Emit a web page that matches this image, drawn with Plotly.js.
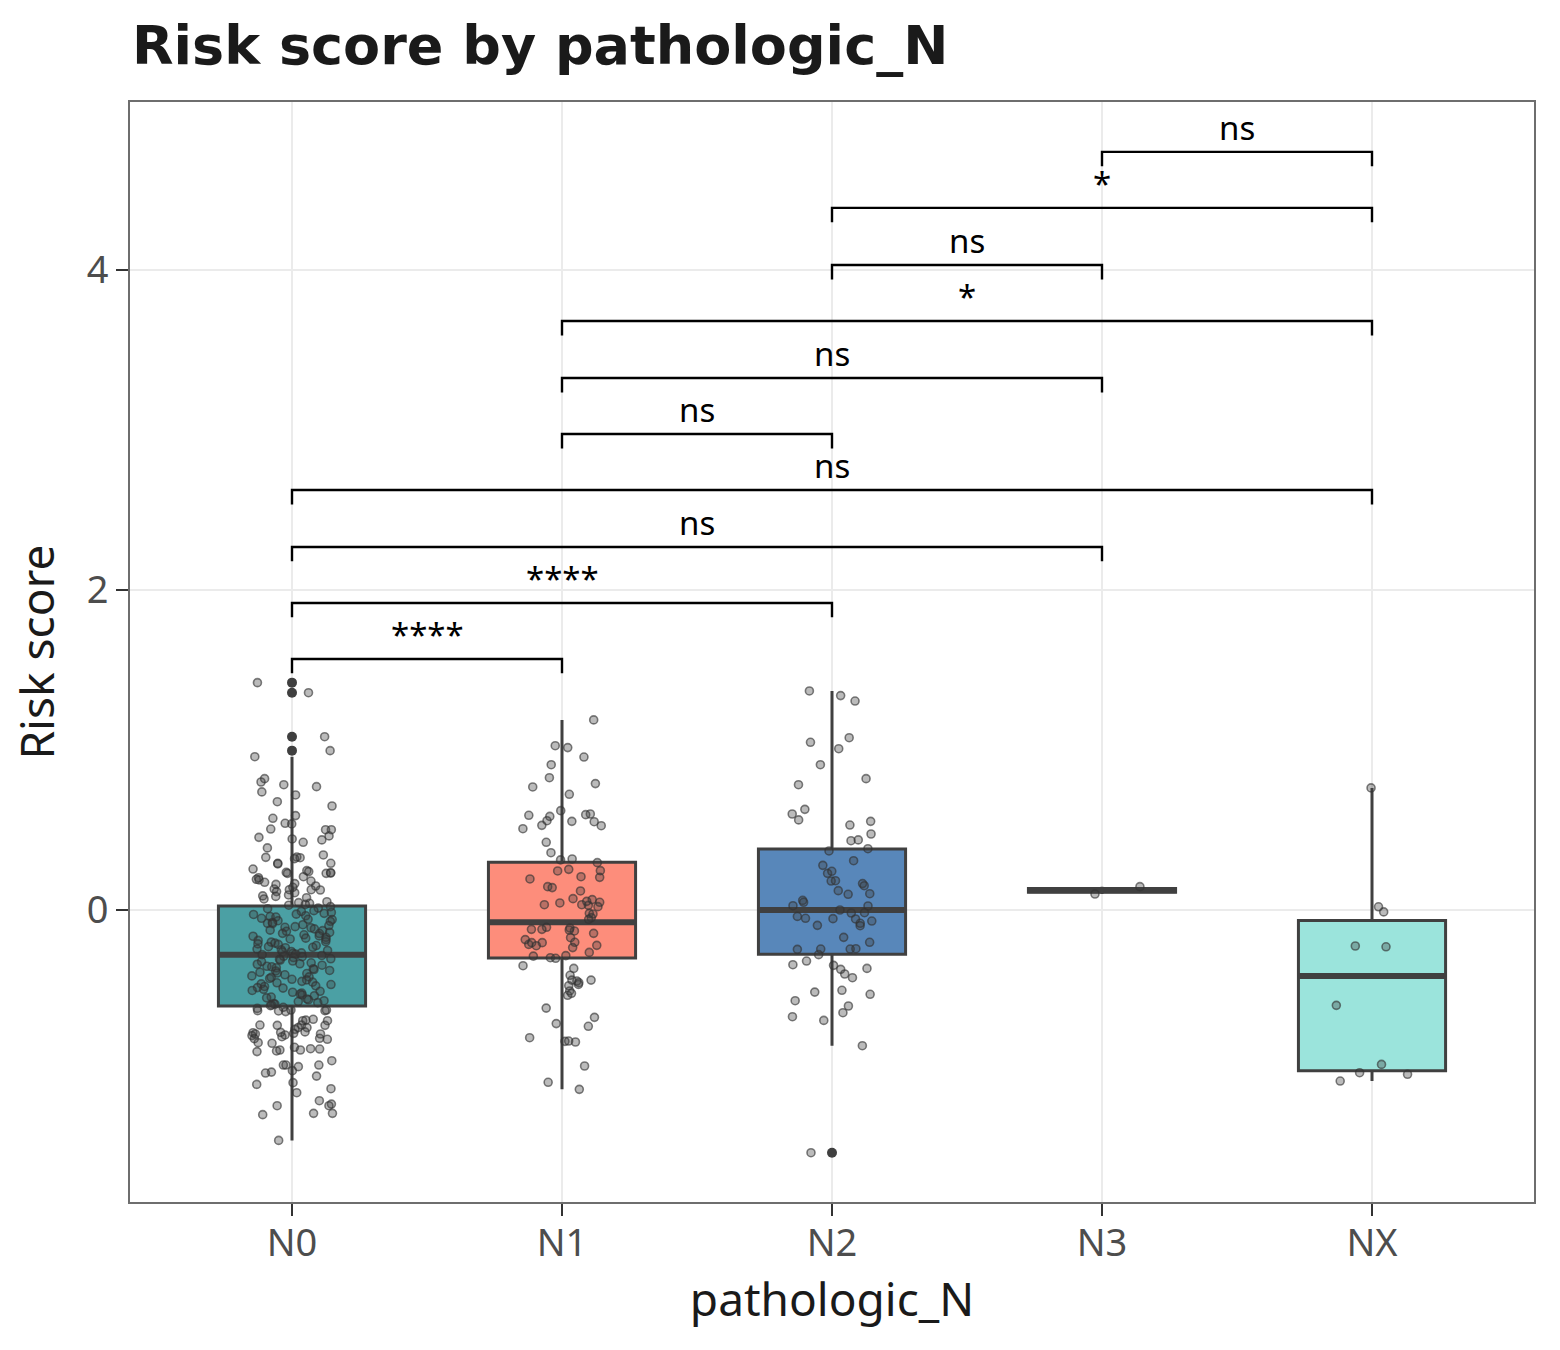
<!DOCTYPE html>
<html>
<head>
<meta charset="utf-8">
<script src="https://cdn.plot.ly/plotly-3.0.1.min.js"></script>
<style>
  html, body { margin: 0; padding: 0; background: #ffffff; }
  #chart { width: 1560px; height: 1350px; }
</style>
</head>
<body>
<div id="chart"></div>
<script>
// ---- Data -------------------------------------------------------------
const stages = ['N0', 'N1', 'N2', 'N3', 'NX'];

// Box summary per stage (Tukey boxes)
const boxQ1     = [-0.600, -0.300, -0.277, 0.111, -1.004];
const boxMedian = [-0.280, -0.077,  0.000, 0.123, -0.413];
const boxQ3     = [ 0.025,  0.298,  0.381, 0.134, -0.065];
const boxLower  = [-1.440, -1.121, -0.848, 0.100, -1.069];
const boxUpper  = [ 0.958,  1.188,  1.369, 0.146,  0.763];

// Outliers beyond the whiskers
const outlierStage = [0, 0, 0, 0, 2];
const outlierScore = [1.421, 1.358, 1.083, 0.996, -1.517];

// Individual risk scores per stage
const scoresN0 = [
  1.421, 1.358, 1.083, 0.996, 0.958, 0.800, 0.821, 0.771, 0.783, 0.738, 0.719, 0.677,
  0.650, 0.590, 0.573, 0.542, 0.538, 0.454, 0.463, 0.438, 0.444, 0.502, 0.502, 0.506,
  0.423, 0.388, 0.331, 0.327, 0.344, 0.292, 0.292, 0.329, 0.321, 0.288, 0.246, 0.231,
  0.229, 0.235, 0.256, 0.208, 0.229, 0.233, 0.240, 0.202, 0.188, 0.160, 0.150, 0.192,
  0.181, 0.173, 0.165, 0.142, 0.108, 0.131, 0.127, 0.115, 0.127, 0.125, 0.094, 0.088,
  0.085, 0.077, 0.069, 0.052, 0.042, 0.035, 0.030, 0.021, 0.046, 0.012,
  0.008, -0.004, -0.009, -0.015, -0.021, -0.026, -0.028, -0.036, -0.041, -0.044, -0.052,
  -0.058, -0.060, -0.067, -0.071, -0.078, -0.083, -0.085, -0.092, -0.097, -0.104, -0.108,
  -0.111, -0.118, -0.126, -0.129, -0.133, -0.140, -0.146, -0.147, -0.155, -0.162, -0.164,
  -0.171, -0.176, -0.181, -0.185, -0.190, -0.198, -0.201, -0.207, -0.212, -0.215, -0.222,
  -0.229, -0.233, -0.236, -0.244, -0.249, -0.253, -0.259, -0.262, -0.268, -0.271, -0.276,
  -0.279, -0.284, -0.289, -0.292, -0.297, -0.305, -0.308, -0.313, -0.319, -0.322, -0.330,
  -0.336, -0.339, -0.345, -0.352, -0.355, -0.361, -0.367, -0.372, -0.378, -0.381, -0.389,
  -0.394, -0.397, -0.405, -0.412, -0.418, -0.421, -0.428, -0.433, -0.437, -0.446, -0.451,
  -0.455, -0.462, -0.466, -0.474, -0.478, -0.485, -0.488, -0.496, -0.503, -0.508, -0.514,
  -0.519, -0.525, -0.531, -0.536, -0.544, -0.549, -0.556, -0.561, -0.567, -0.572, -0.579,
  -0.584, -0.588, -0.594, -0.598,
  -0.635, -0.615, -0.629, -0.608, -0.631, -0.625, -0.629, -0.625, -0.692, -0.683, -0.719,
  -0.735, -0.721, -0.746, -0.719, -0.688, -0.735, -0.692, -0.721, -0.762, -0.767, -0.792,
  -0.785, -0.781, -0.775, -0.775, -0.765, -0.771, -0.804, -0.802, -0.808, -0.829, -0.885,
  -0.875, -0.881, -0.869, -0.858, -0.867, -0.833, -0.875, -0.969, -0.942, -1.013, -0.969,
  -0.969, -0.979, -1.004, -1.019, -1.038, -1.079, -1.117, -1.142, -1.090, -1.213, -1.223,
  -1.271, -1.223, -1.271, -1.192, -1.279, -1.440
];
const scoresN1 = [
  1.188, 1.027, 1.015, 0.956, 0.908, 0.827, 0.790, 0.769, 0.723, 0.621, 0.585, 0.600,
  0.592, 0.596, 0.527, 0.558, 0.529, 0.554, 0.552, 0.508, 0.423, 0.358, 0.313, 0.319,
  0.296, 0.246, 0.254, 0.244, 0.208, 0.204, 0.194, 0.146, 0.140, 0.119, 0.071, 0.044,
  0.029, 0.065, 0.033, 0.048, 0.054, 0.033, 0.021, -0.021, -0.025, -0.048, -0.058,
  -0.113, -0.131, -0.121, -0.108, -0.125, -0.146, -0.121, -0.173, -0.204, -0.215, -0.202,
  -0.204, -0.185, -0.223, -0.221, -0.235, -0.265, -0.288, -0.298, -0.285, -0.302, -0.365,
  -0.348, -0.408, -0.438, -0.438, -0.444, -0.465, -0.473, -0.506, -0.533, -0.521, -0.454,
  -0.613, -0.671, -0.710, -0.727, -0.821, -0.819, -0.798, -0.825, -0.975, -1.077, -1.121
];
const scoresN2 = [
  1.369, 1.340, 1.306, 1.077, 1.008, 1.048, 0.908, 0.821, 0.783, 0.629, 0.600, 0.563,
  0.554, 0.531, 0.475, 0.433, 0.438, 0.383, 0.369, 0.308, 0.279, 0.229, 0.242, 0.181,
  0.183, 0.165, 0.152, 0.121, 0.098, 0.102, 0.060, 0.048, 0.025, 0.027, 0.000, -0.017,
  -0.019, -0.056, -0.096, -0.040, -0.052, -0.083, -0.054, -0.069, -0.098, -0.171, -0.202,
  -0.246, -0.244, -0.244, -0.242, -0.279, -0.346, -0.365, -0.371, -0.319, -0.342, -0.400,
  -0.423, -0.527, -0.502, -0.513, -0.567, -0.600, -0.642, -0.667, -0.690, -0.848, -1.517
];
const scoresN3 = [0.146, 0.100];
const scoresNX = [0.763, 0.020, -0.012, -0.230, -0.225, -0.596, -0.965, -1.027, -1.017, -1.069];

// Pairwise comparisons (stage indices), their significance labels and bracket heights
const compFrom   = [0, 0, 0, 0, 1, 1, 1, 2, 2, 3];
const compTo     = [1, 2, 3, 4, 2, 3, 4, 3, 4, 4];
const compLabel  = ['****', '****', 'ns', 'ns', 'ns', 'ns', '*', 'ns', '*', 'ns'];
const bracketY   = [1.569, 1.919, 2.269, 2.625, 2.975, 3.325, 3.681, 4.031, 4.388, 4.738];

// ---- Styling ----------------------------------------------------------
const boxFill   = ['#4BA0A4', '#FD8D7B', '#5887BA', '#7FD3CB', '#9BE4DC'];
const edgeColor = '#404040';
const boxWidth  = 0.545;
const jitterAmt = 0.15;
const tickDrop  = 0.09;
const textFont  = 'Noto Sans, Open Sans, sans-serif';

// Deterministic jitter generator (horizontal spread only)
function mulberry32(a) {
  return function () {
    a |= 0; a = a + 0x6D2B79F5 | 0;
    let t = Math.imul(a ^ a >>> 15, 1 | a);
    t = t + Math.imul(t ^ t >>> 7, 61 | t) ^ t;
    return ((t ^ t >>> 14) >>> 0) / 4294967296;
  };
}

const scoreGroups = [scoresN0, scoresN1, scoresN2, scoresN3, scoresNX];
const traces = [];

// Boxes
stages.forEach((s, i) => {
  traces.push({
    type: 'box', name: s, x: [i],
    q1: [boxQ1[i]], median: [boxMedian[i]], q3: [boxQ3[i]],
    lowerfence: [boxLower[i]], upperfence: [boxUpper[i]],
    width: boxWidth, whiskerwidth: 0, boxpoints: false,
    fillcolor: boxFill[i], line: { color: edgeColor, width: 3 },
    hoverinfo: 'skip', showlegend: false
  });
});

// Thick median bars
stages.forEach((s, i) => {
  traces.push({
    type: 'scatter', mode: 'lines',
    x: [i - boxWidth / 2, i + boxWidth / 2], y: [boxMedian[i], boxMedian[i]],
    line: { color: edgeColor, width: 6 }, hoverinfo: 'skip', showlegend: false
  });
});

// Outliers
traces.push({
  type: 'scatter', mode: 'markers',
  x: outlierStage, y: outlierScore,
  marker: { size: 10, color: '#3F3F3F' },
  hoverinfo: 'skip', showlegend: false
});

// Jittered observations
scoreGroups.forEach((vals, i) => {
  const rnd = mulberry32(1234 + i * 97);
  const xs = vals.map(() => i + (rnd() * 2 - 1) * jitterAmt);
  traces.push({
    type: 'scatter', mode: 'markers', x: xs, y: vals,
    marker: {
      size: 8, color: 'rgba(60,60,60,0.35)',
      line: { color: 'rgba(50,50,50,0.62)', width: 1.6 }
    },
    hoverinfo: 'skip', showlegend: false
  });
});

// Significance brackets
const bx = [], by = [];
compFrom.forEach((a, k) => {
  const b = compTo[k], y = bracketY[k];
  bx.push(a, a, b, b, null);
  by.push(y - tickDrop, y, y, y - tickDrop, null);
});
traces.push({
  type: 'scatter', mode: 'lines', x: bx, y: by,
  line: { color: '#000000', width: 2.4 }, hoverinfo: 'skip', showlegend: false
});

const annotations = compFrom.map((a, k) => ({
  x: (a + compTo[k]) / 2, y: bracketY[k], xref: 'x', yref: 'y',
  text: compLabel[k], showarrow: false, yanchor: 'bottom', xanchor: 'center',
  yshift: 0, font: { family: textFont, size: 33, color: '#000000' }
}));

const axisCommon = {
  showgrid: true, gridcolor: '#EBEBEB', gridwidth: 2,
  zeroline: false, showline: true, mirror: true,
  linecolor: '#6E6E6E', linewidth: 2,
  ticks: 'outside', ticklen: 12, tickwidth: 2, tickcolor: '#333333',
  tickfont: { family: textFont, size: 38, color: '#4D4D4D' },
  automargin: false, fixedrange: true
};

const layout = {
  width: 1560, height: 1350,
  paper_bgcolor: '#FFFFFF', plot_bgcolor: '#FFFFFF',
  margin: { l: 130, r: 26, t: 102, b: 148, pad: 0 },
  showlegend: false,
  title: {
    text: 'Risk score by pathologic_N',
    font: { family: 'DejaVu Sans, sans-serif', size: 54, weight: 700, color: '#1A1A1A' },
    xref: 'container', x: 132 / 1560, xanchor: 'left',
    yref: 'container', y: 1 - 26 / 1350, yanchor: 'top'
  },
  xaxis: Object.assign({}, axisCommon, {
    range: [-0.6, 4.6], tickmode: 'array',
    tickvals: stages.map((s, i) => i), ticktext: stages,
    ticklabelstandoff: -6,
    title: { text: 'pathologic_N', standoff: 12,
             font: { family: textFont, size: 46, color: '#1A1A1A' } }
  }),
  yaxis: Object.assign({}, axisCommon, {
    range: [-1.825, 5.05], tickmode: 'array',
    tickvals: [0, 2, 4], ticktext: ['0', '2', '4'],
    title: { text: 'Risk score', standoff: 18,
             font: { family: textFont, size: 46, color: '#1A1A1A' } }
  }),
  annotations: annotations
};

Plotly.newPlot('chart', traces, layout, { displayModeBar: false, staticPlot: true });
</script>
</body>
</html>
